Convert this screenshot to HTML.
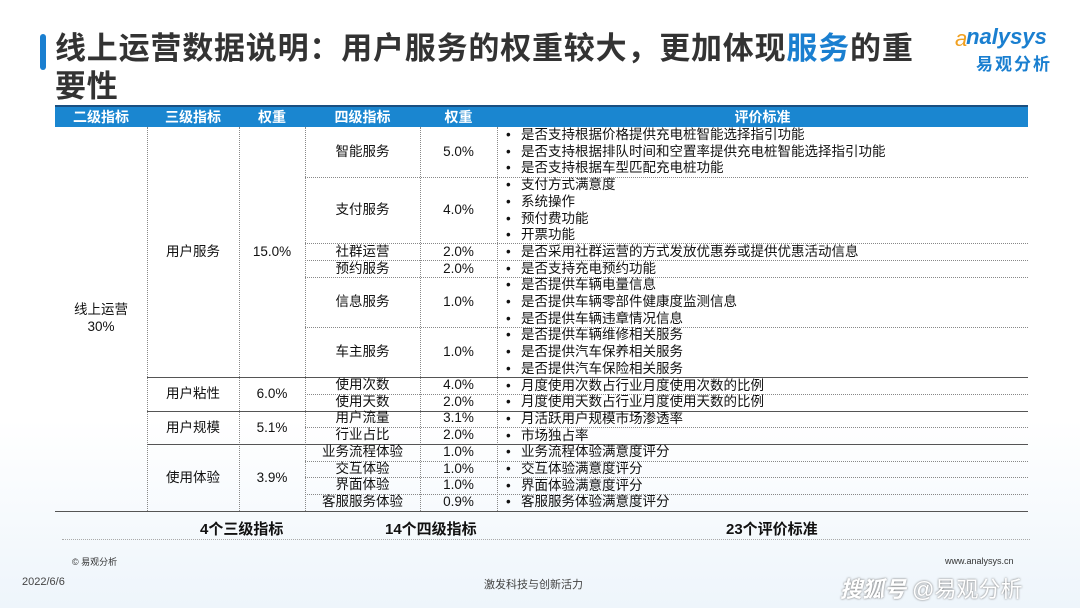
<!DOCTYPE html>
<html><head><meta charset="utf-8"><style>
body{margin:0;width:1080px;height:608px;overflow:hidden;background:#fff;font-family:"Liberation Sans","Noto Sans CJK SC",sans-serif;position:relative;color:#111}
.a{position:absolute;white-space:nowrap}
.c{position:absolute;text-align:center;white-space:nowrap;font-size:13.5px;line-height:16.7px}
.t{position:absolute;left:506px;font-size:13.5px;line-height:16.7px;white-space:nowrap}
.t span{display:inline-block;width:15px}
.h{position:absolute;height:0;border-top:1px dotted #888}
.s{position:absolute;height:0;border-top:1.5px solid #555}
.v{position:absolute;width:0;border-left:1px dotted #888;top:127px;height:384px}
</style></head><body>
<div class="a" style="left:0;top:420px;width:1080px;height:188px;background:linear-gradient(#fff,#eef5fb)"></div>
<div class="a" style="left:40px;top:34px;width:6px;height:36px;background:#1a7fd0;border-radius:3px"></div>
<div class="a" style="left:55px;top:30px;font-size:31px;letter-spacing:0.8px;font-weight:bold;color:#333;line-height:38px">线上运营数据说明：用户服务的权重较大，更加体现<span style="color:#1a7fd0">服务</span>的重<br>要性</div>
<div class="a" style="left:960px;top:24px;font-size:22px;font-style:italic;font-weight:bold;color:#1a7fd0">&nbsp;nalysys</div>
<div class="a" style="left:955px;top:26px;font-size:22px;font-style:italic;color:#f0a020">a</div>
<div class="a" style="left:976px;top:50px;font-size:17px;font-weight:bold;color:#1a7fd0;letter-spacing:2px">易观分析</div>
<div class="a" style="left:55px;top:105px;width:973px;height:2px;background:#1a4f80"></div>
<div class="a" style="left:55px;top:107px;width:973px;height:20px;background:#1a86d0"></div>
<div class="a" style="left:55px;top:107px;width:973px;height:20px;color:#fff;font-weight:bold;font-size:14px;line-height:20px">
<span class="a" style="left:0;width:92px;text-align:center">二级指标</span>
<span class="a" style="left:92px;width:92px;text-align:center">三级指标</span>
<span class="a" style="left:184px;width:66px;text-align:center">权重</span>
<span class="a" style="left:250px;width:115px;text-align:center">四级指标</span>
<span class="a" style="left:365px;width:77px;text-align:center">权重</span>
<span class="a" style="left:442px;width:531px;text-align:center">评价标准</span></div>
<div class="v" style="left:147px"></div><div class="v" style="left:239px"></div><div class="v" style="left:305px"></div><div class="v" style="left:420px"></div><div class="v" style="left:497px"></div>
<div class="h" style="left:305px;width:723px;top:177px"></div>
<div class="h" style="left:305px;width:723px;top:243px"></div>
<div class="h" style="left:305px;width:723px;top:260px"></div>
<div class="h" style="left:305px;width:723px;top:277px"></div>
<div class="h" style="left:305px;width:723px;top:327px"></div>
<div class="s" style="left:147px;width:881px;top:377px"></div>
<div class="h" style="left:305px;width:723px;top:394px"></div>
<div class="s" style="left:147px;width:881px;top:411px"></div>
<div class="h" style="left:305px;width:723px;top:427px"></div>
<div class="s" style="left:147px;width:881px;top:444px"></div>
<div class="h" style="left:305px;width:723px;top:461px"></div>
<div class="h" style="left:305px;width:723px;top:477px"></div>
<div class="h" style="left:305px;width:723px;top:494px"></div>
<div class="s" style="left:55px;width:973px;top:511px"></div>
<div class="c" style="left:55px;width:92px;top:302px">线上运营<br>30%</div>
<div class="c" style="left:147px;width:92px;top:244px">用户服务</div><div class="c" style="left:239px;width:66px;top:244px">15.0%</div>
<div class="c" style="left:147px;width:92px;top:386px">用户粘性</div><div class="c" style="left:239px;width:66px;top:386px">6.0%</div>
<div class="c" style="left:147px;width:92px;top:420px">用户规模</div><div class="c" style="left:239px;width:66px;top:420px">5.1%</div>
<div class="c" style="left:147px;width:92px;top:470px">使用体验</div><div class="c" style="left:239px;width:66px;top:470px">3.9%</div>
<div class="c" style="left:305px;width:115px;top:144px">智能服务</div><div class="c" style="left:420px;width:77px;top:144px">5.0%</div>
<div class="c" style="left:305px;width:115px;top:202px">支付服务</div><div class="c" style="left:420px;width:77px;top:202px">4.0%</div>
<div class="c" style="left:305px;width:115px;top:244px">社群运营</div><div class="c" style="left:420px;width:77px;top:244px">2.0%</div>
<div class="c" style="left:305px;width:115px;top:261px">预约服务</div><div class="c" style="left:420px;width:77px;top:261px">2.0%</div>
<div class="c" style="left:305px;width:115px;top:294px">信息服务</div><div class="c" style="left:420px;width:77px;top:294px">1.0%</div>
<div class="c" style="left:305px;width:115px;top:344px">车主服务</div><div class="c" style="left:420px;width:77px;top:344px">1.0%</div>
<div class="c" style="left:305px;width:115px;top:377px">使用次数<br>使用天数<br>用户流量<br>行业占比<br>业务流程体验<br>交互体验<br>界面体验<br>客服服务体验</div>
<div class="c" style="left:420px;width:77px;top:377px">4.0%<br>2.0%<br>3.1%<br>2.0%<br>1.0%<br>1.0%<br>1.0%<br>0.9%</div>
<div class="t" style="top:127px">
<span>•</span>是否支持根据价格提供充电桩智能选择指引功能<br>
<span>•</span>是否支持根据排队时间和空置率提供充电桩智能选择指引功能<br>
<span>•</span>是否支持根据车型匹配充电桩功能<br>
<span>•</span>支付方式满意度<br>
<span>•</span>系统操作<br>
<span>•</span>预付费功能<br>
<span>•</span>开票功能<br>
<span>•</span>是否采用社群运营的方式发放优惠券或提供优惠活动信息<br>
<span>•</span>是否支持充电预约功能<br>
<span>•</span>是否提供车辆电量信息<br>
<span>•</span>是否提供车辆零部件健康度监测信息<br>
<span>•</span>是否提供车辆违章情况信息<br>
<span>•</span>是否提供车辆维修相关服务<br>
<span>•</span>是否提供汽车保养相关服务<br>
<span>•</span>是否提供汽车保险相关服务<br>
<span>•</span>月度使用次数占行业月度使用次数的比例<br>
<span>•</span>月度使用天数占行业月度使用天数的比例<br>
<span>•</span>月活跃用户规模市场渗透率<br>
<span>•</span>市场独占率<br>
<span>•</span>业务流程体验满意度评分<br>
<span>•</span>交互体验满意度评分<br>
<span>•</span>界面体验满意度评分<br>
<span>•</span>客服服务体验满意度评分</div>
<div class="a" style="left:200px;top:518px;font-size:15px;font-weight:bold">4个三级指标</div>
<div class="a" style="left:385px;top:518px;font-size:15px;font-weight:bold">14个四级指标</div>
<div class="a" style="left:726px;top:518px;font-size:15px;font-weight:bold">23个评价标准</div>
<div class="h" style="left:62px;width:968px;top:539px;border-color:#aaa"></div>
<div class="a" style="left:72px;top:555px;font-size:9px;color:#333">© 易观分析</div>
<div class="a" style="left:945px;top:556px;font-size:9px;color:#333">www.analysys.cn</div>
<div class="a" style="left:22px;top:576px;font-size:11px;color:#444">2022/6/6</div>
<div class="a" style="left:484px;top:576px;font-size:11px;color:#444">激发科技与创新活力</div>
<div class="a" style="left:840px;top:572px;font-size:22px;color:#fff;font-style:italic;font-weight:bold;text-shadow:0 0 2px #666">搜狐号 <span style="font-weight:normal;font-style:normal">@易观分析</span></div>
</body></html>
